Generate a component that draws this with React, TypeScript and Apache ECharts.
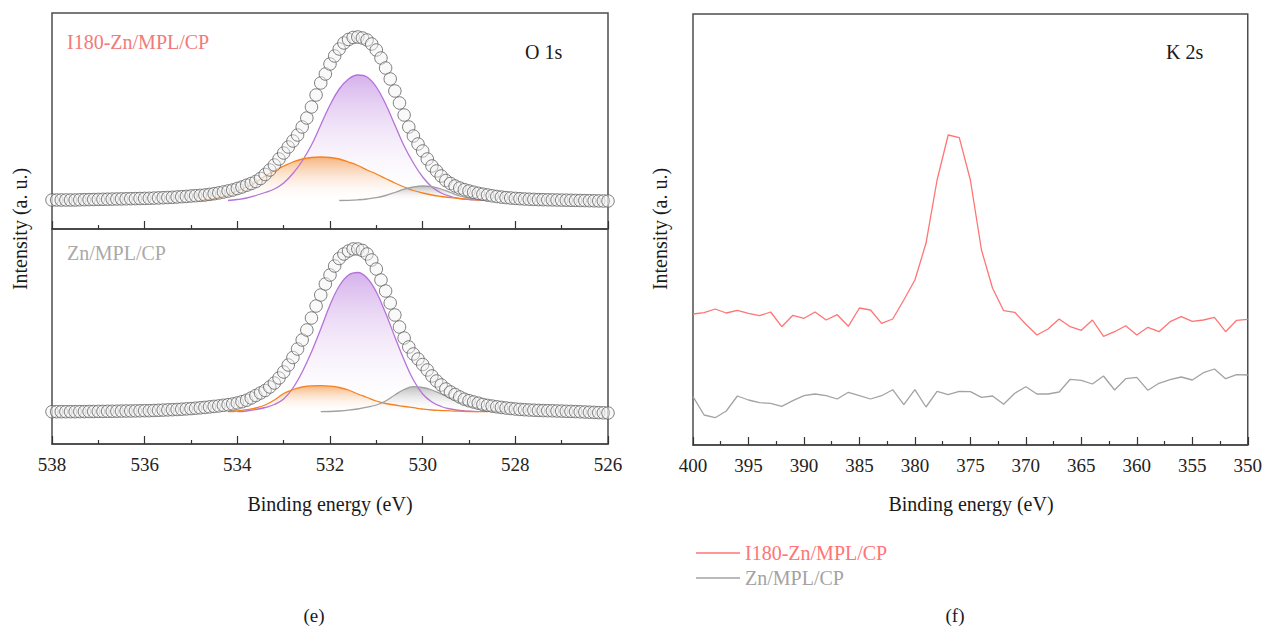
import React, { useEffect, useRef } from "react";
import * as echarts from "echarts";

const FONT = '"Liberation Serif", "Times New Roman", serif';

// ---------- O 1s (panel e) ----------
const O1S_START = 538;
const O1S_STEP = 0.1;
const O1S_TICKS = { min: 526, max: 538, interval: 2 };

// measured envelope (a.u.), 538.0 -> 526.0 eV, step 0.1 eV
const TOP_ENVELOPE = [
  29, 29, 29, 29, 29, 29, 29.2, 29.3, 29.4, 29.5, 29.6, 29.7, 29.8, 29.9, 30, 30.1, 30.2, 30.3, 30.4, 30.5, 30.6,
  30.7, 30.9, 31.1, 31.3, 31.5, 31.7, 32, 32.3, 32.6, 33, 33.3, 33.6, 34, 34.6, 35.3, 36.1, 37, 38, 39, 40.5,
  42, 43.8, 45.5, 47.5, 50.5, 54.5, 59, 64, 70, 76, 82, 88, 94, 102, 111, 122, 134, 146, 155, 165,
  173, 180, 186, 189.5, 191.5, 192, 191, 189, 185, 179, 171, 161, 150, 138, 126, 114, 102, 93, 85, 78,
  70, 63, 58, 53, 48.5, 45.5, 43, 41, 39.3, 38, 36.8, 35.7, 34.8, 34, 33.2, 32.5, 31.9, 31.4, 31, 30.6,
  30.3, 30, 29.8, 29.6, 29.4, 29.3, 29.2, 29.1, 29, 28.9, 28.8, 28.7, 28.6, 28.5, 28.4, 28.3, 28.2, 28.1, 28, 28,
];
const BOTTOM_ENVELOPE = [
  32.3, 32.3, 32.3, 32.3, 32.3, 32.3, 32.4, 32.4, 32.5, 32.5, 32.6, 32.6, 32.7, 32.7, 32.8, 32.9, 33, 33, 33.1, 33.2, 33.3,
  33.3, 33.5, 33.7, 33.9, 34.1, 34.3, 34.5, 34.8, 35.1, 35.4, 35.8, 36.2, 36.6, 37.1, 37.6, 38.1, 38.7, 39.3, 40, 41,
  42.3, 43.8, 46, 48.5, 51, 53.5, 57, 61, 66, 72, 79, 86.5, 95, 104, 114, 126, 138, 149, 160, 169,
  178, 185.5, 190, 193, 195, 195, 193.5, 190, 184, 175, 164, 153, 141, 129, 117, 106, 97, 90, 85, 79.5,
  74, 68, 63, 59, 55, 52, 49.5, 47, 44.8, 43.3, 42, 40.8, 39.5, 38.6, 37.9, 37.2, 36.6, 36, 35.5, 35,
  34.6, 34.3, 34, 33.8, 33.6, 33.4, 33.3, 33.2, 33, 32.9, 32.7, 32.6, 32.4, 32.2, 32, 31.8, 31.6, 31.4, 31.2, 31,
];
// fit background levels
const TOP_BG = 28.5;
const BOTTOM_BG = 32.3;

// fitted components [eV, a.u.]
const TOP_PURPLE: [number, number][] = [
  [534.2, 28.5], [534.0, 29.5], [533.8, 31], [533.6, 33.5], [533.4, 36.5], [533.2, 40], [533.0, 46], [532.8, 55.5],
  [532.6, 68], [532.4, 84], [532.2, 104], [532.0, 124], [531.8, 140], [531.6, 150], [531.4, 154], [531.2, 152],
  [531.0, 142], [530.8, 125], [530.6, 104], [530.4, 83], [530.2, 66], [530.0, 52], [529.8, 42], [529.6, 36],
  [529.4, 32.5], [529.2, 30.5], [529.0, 29.5], [528.8, 29], [528.6, 28.5],
];
const TOP_ORANGE: [number, number][] = [
  [534.8, 28.5], [534.6, 29.5], [534.4, 31.5], [534.2, 34.5], [534.0, 38], [533.8, 42], [533.6, 47], [533.4, 53],
  [533.2, 58.5], [533.0, 63], [532.8, 67], [532.6, 70], [532.4, 71.5], [532.2, 72], [532.0, 71.5], [531.8, 70],
  [531.6, 67], [531.4, 63.5], [531.2, 59], [531.0, 55], [530.8, 50.5], [530.6, 46], [530.4, 42], [530.2, 38.5],
  [530.0, 36], [529.8, 34], [529.6, 32.5], [529.4, 31.3], [529.2, 30.3], [529.0, 29.6], [528.8, 29], [528.6, 28.5],
];
const TOP_GRAY: [number, number][] = [
  [531.8, 28.5], [531.6, 28.7], [531.4, 29.2], [531.2, 30], [531.0, 31.3], [530.8, 33.5], [530.6, 36.5],
  [530.4, 39.8], [530.2, 42], [530.0, 43], [529.8, 42.3], [529.6, 40], [529.4, 36.5], [529.2, 33], [529.0, 30.8],
  [528.8, 29.3], [528.6, 28.5],
];
const BOTTOM_PURPLE: [number, number][] = [
  [534.0, 32.3], [533.8, 33], [533.6, 34.5], [533.4, 36.5], [533.2, 39.5], [533.0, 45], [532.8, 56], [532.6, 72],
  [532.4, 92], [532.2, 115], [532.0, 139], [531.8, 158], [531.6, 169], [531.4, 171.5], [531.2, 166], [531.0, 152],
  [530.8, 131], [530.6, 107], [530.4, 84], [530.2, 64], [530.0, 50], [529.8, 42], [529.6, 37.5], [529.4, 35],
  [529.2, 33.5], [529.0, 32.8], [528.8, 32.3],
];
const BOTTOM_ORANGE: [number, number][] = [
  [534.2, 32.3], [534.0, 33], [533.8, 34.3], [533.6, 36], [533.4, 39], [533.2, 44], [533.0, 50.5], [532.8, 54.5],
  [532.6, 57], [532.4, 58.2], [532.2, 58.3], [532.0, 57.8], [531.8, 56.5], [531.6, 54], [531.4, 50], [531.2, 46.5],
  [531.0, 43], [530.8, 40.5], [530.6, 39], [530.4, 37.5], [530.2, 36.3], [530.0, 35], [529.8, 34], [529.6, 33.5],
  [529.4, 33.1], [529.2, 32.8], [529.0, 32.5], [528.6, 32.3],
];
const BOTTOM_GRAY: [number, number][] = [
  [532.2, 32.3], [532.0, 32.5], [531.8, 33], [531.6, 33.8], [531.4, 35], [531.2, 36.8], [531.0, 39], [530.8, 43],
  [530.6, 49], [530.4, 54.5], [530.2, 57.3], [530.0, 56.5], [529.8, 54], [529.6, 50], [529.4, 45.7], [529.2, 41.5],
  [529.0, 38], [528.8, 35.5], [528.6, 33.5], [528.4, 32.5], [528.2, 32.3],
];

// ---------- K 2s (panel f) ----------
const K2S_START = 400;
const K2S_STEP = 1;
const K2S_TICKS = { min: 350, max: 400, interval: 5 };
const K2S_I180 = [
  131, 132.3, 136, 132, 134.7, 131.7, 129.3, 133, 118.3, 129.7, 126.7, 133, 125, 130.3, 118.7, 137, 135, 121.7, 126, 145,
  165, 201.7, 265, 310, 307.3, 265, 195, 156.7, 134.3, 132.7, 120.7,
  110, 116, 126, 118.3, 114.7, 125, 108.7, 113.3, 119.3, 110, 117.7, 113.3, 123.3, 128.3, 123.7, 125, 127.7, 113.3, 124.7, 125.7,
];
const K2S_ZN = [
  48.3, 30, 27.3, 34, 49, 45, 42.3, 41.7, 38.7, 44.3, 49.3, 51, 49.3, 46, 52.7, 49.3, 46, 49.3, 55.3, 40.3,
  55.3, 38, 53.7, 50.3, 53.7, 53.3, 47.7, 49, 40.7, 51.7, 58.3,
  51, 51, 53, 65.7, 64.7, 61, 69, 55, 66.3, 67.7, 54.7, 61.7, 65.3, 68, 65, 72.3, 76, 66.3, 70.3, 70,
];

const NAME_I180 = "I180-Zn/MPL/CP";
const NAME_ZN = "Zn/MPL/CP";

const COLOR_RED = "#ff7575";
const COLOR_GRAYLINE = "#a3a3a3";
const COLOR_PURPLE = "#b572d9";
const COLOR_ORANGE = "#f5821f";
const COLOR_COMP_GRAY = "#a0a0a0";

const grad = (top: string) =>
  new echarts.graphic.LinearGradient(0, 0, 0, 1, [
    { offset: 0, color: top },
    { offset: 1, color: "rgba(255,255,255,0.05)" },
  ]);

const envPairs = (vals: number[], bg: number) =>
  vals.map((v, i) => [+(O1S_START - i * O1S_STEP).toFixed(1), v - bg]);
const compPairs = (pts: [number, number][], bg: number) => pts.map(([x, y]) => [x, y - bg]);

function xAxisCfg(gridIndex: number, t: { min: number; max: number; interval: number }, showLabel: boolean) {
  return {
    gridIndex,
    type: "value",
    min: t.min,
    max: t.max,
    interval: t.interval,
    inverse: true,
    axisLine: { show: true, onZero: false, lineStyle: { color: "#444", width: 1.5 } },
    axisTick: { show: true, inside: true, length: 8, lineStyle: { color: "#333", width: 1.2 } },
    minorTick: { show: true, splitNumber: 2, length: 4, lineStyle: { color: "#333", width: 1.2 } },
    splitLine: { show: false },
    minorSplitLine: { show: false },
    axisLabel: {
      show: showLabel,
      fontFamily: FONT,
      fontSize: 19,
      color: "#222",
      margin: 11,
      showMinLabel: true,
      showMaxLabel: true,
    },
  };
}

function compSeries(name: string, x: number, y: number, data: number[][], color: string, fill: string) {
  return {
    name,
    type: "line",
    xAxisIndex: x,
    yAxisIndex: y,
    data,
    smooth: 0.4,
    symbol: "none",
    lineStyle: { color, width: 1.3 },
    areaStyle: { color: grad(fill) },
    z: 2,
  };
}

function envSeries(name: string, x: number, y: number, data: number[][]) {
  return {
    name,
    type: "scatter",
    xAxisIndex: x,
    yAxisIndex: y,
    data,
    symbol: "circle",
    symbolSize: 12.5,
    itemStyle: { color: "rgba(242,242,242,0.55)", borderColor: "#5f5f5f", borderWidth: 1 },
    z: 5,
  };
}

const text = (t: string, x: number, y: number, color: string, align = "left", rotation = 0, size = 20) => ({
  type: "text",
  x,
  y,
  rotation,
  style: {
    text: t,
    fontFamily: FONT,
    fontSize: size,
    fill: color,
    align,
    verticalAlign: "middle",
  },
  z: 10,
});

const gridStyle = { show: true, borderColor: "#4d4d4d", borderWidth: 1.5, backgroundColor: "transparent" };

export default function App() {
  const ref = useRef<HTMLDivElement>(null);
  useEffect(() => {
    document.body.style.margin = "0";
    const chart = echarts.init(ref.current!, null, { renderer: "svg" });
    const option = {
      animation: false,
      backgroundColor: "#ffffff",
      textStyle: { fontFamily: FONT },
      grid: [
        { left: 52, top: 13, width: 556, height: 216, ...gridStyle },
        { left: 52, top: 229, width: 556, height: 215, ...gridStyle },
        { left: 693, top: 14, width: 556, height: 431, ...gridStyle },
      ],
      xAxis: [xAxisCfg(0, O1S_TICKS, false), xAxisCfg(1, O1S_TICKS, true), xAxisCfg(2, K2S_TICKS, true)],
      yAxis: [
        { gridIndex: 0, type: "value", min: -TOP_BG, max: 216 - TOP_BG, show: false },
        { gridIndex: 1, type: "value", min: -BOTTOM_BG, max: 215 - BOTTOM_BG, show: false },
        { gridIndex: 2, type: "value", min: 0, max: 431, show: false },
      ],
      legend: {
        data: [
          { name: NAME_I180, icon: "rect", textStyle: { color: COLOR_RED } },
          { name: NAME_ZN, icon: "rect", textStyle: { color: COLOR_GRAYLINE } },
        ],
        orient: "vertical",
        left: 696,
        top: 543,
        padding: 0,
        itemWidth: 44,
        itemHeight: 1.5,
        itemGap: 5,
        selectedMode: false,
        textStyle: { fontFamily: FONT, fontSize: 20 },
      },
      series: [
        compSeries("top-purple", 0, 0, compPairs(TOP_PURPLE, TOP_BG), COLOR_PURPLE, "rgba(185,125,222,0.85)"),
        compSeries("top-orange", 0, 0, compPairs(TOP_ORANGE, TOP_BG), COLOR_ORANGE, "rgba(245,135,40,0.85)"),
        compSeries("top-gray", 0, 0, compPairs(TOP_GRAY, TOP_BG), COLOR_COMP_GRAY, "rgba(140,140,140,0.8)"),
        envSeries("top-env", 0, 0, envPairs(TOP_ENVELOPE, TOP_BG)),
        compSeries("bot-purple", 1, 1, compPairs(BOTTOM_PURPLE, BOTTOM_BG), COLOR_PURPLE, "rgba(185,125,222,0.85)"),
        compSeries("bot-orange", 1, 1, compPairs(BOTTOM_ORANGE, BOTTOM_BG), COLOR_ORANGE, "rgba(245,135,40,0.85)"),
        compSeries("bot-gray", 1, 1, compPairs(BOTTOM_GRAY, BOTTOM_BG), COLOR_COMP_GRAY, "rgba(140,140,140,0.8)"),
        envSeries("bot-env", 1, 1, envPairs(BOTTOM_ENVELOPE, BOTTOM_BG)),
        {
          name: NAME_I180,
          type: "line",
          xAxisIndex: 2,
          yAxisIndex: 2,
          data: K2S_I180.map((v, i) => [K2S_START - i * K2S_STEP, v]),
          symbol: "none",
          lineStyle: { color: COLOR_RED, width: 1.3 },
          itemStyle: { color: COLOR_RED },
        },
        {
          name: NAME_ZN,
          type: "line",
          xAxisIndex: 2,
          yAxisIndex: 2,
          data: K2S_ZN.map((v, i) => [K2S_START - i * K2S_STEP, v]),
          symbol: "none",
          lineStyle: { color: COLOR_GRAYLINE, width: 1.3 },
          itemStyle: { color: COLOR_GRAYLINE },
        },
      ],
      graphic: [
        text(NAME_I180, 67, 42, "#f27a7a"),
        text("O 1s", 525, 52, "#1a1a1a"),
        text(NAME_ZN, 67, 253, "#a9a9a9"),
        text("K 2s", 1166, 52, "#1a1a1a"),
        text("Intensity (a. u.)", 20, 229, "#1a1a1a", "center", Math.PI / 2),
        text("Intensity (a. u.)", 660, 229, "#1a1a1a", "center", Math.PI / 2),
        text("Binding energy (eV)", 330, 504, "#1a1a1a", "center"),
        text("Binding energy (eV)", 971, 504, "#1a1a1a", "center"),
        text("(e)", 314, 615, "#1a1a1a", "center", 0, 19),
        text("(f)", 955, 615, "#1a1a1a", "center", 0, 19),
      ],
    };
    chart.setOption(option as any);
    return () => chart.dispose();
  }, []);
  return <div ref={ref} style={{ width: 1265, height: 628, overflow: "hidden" }} />;
}
